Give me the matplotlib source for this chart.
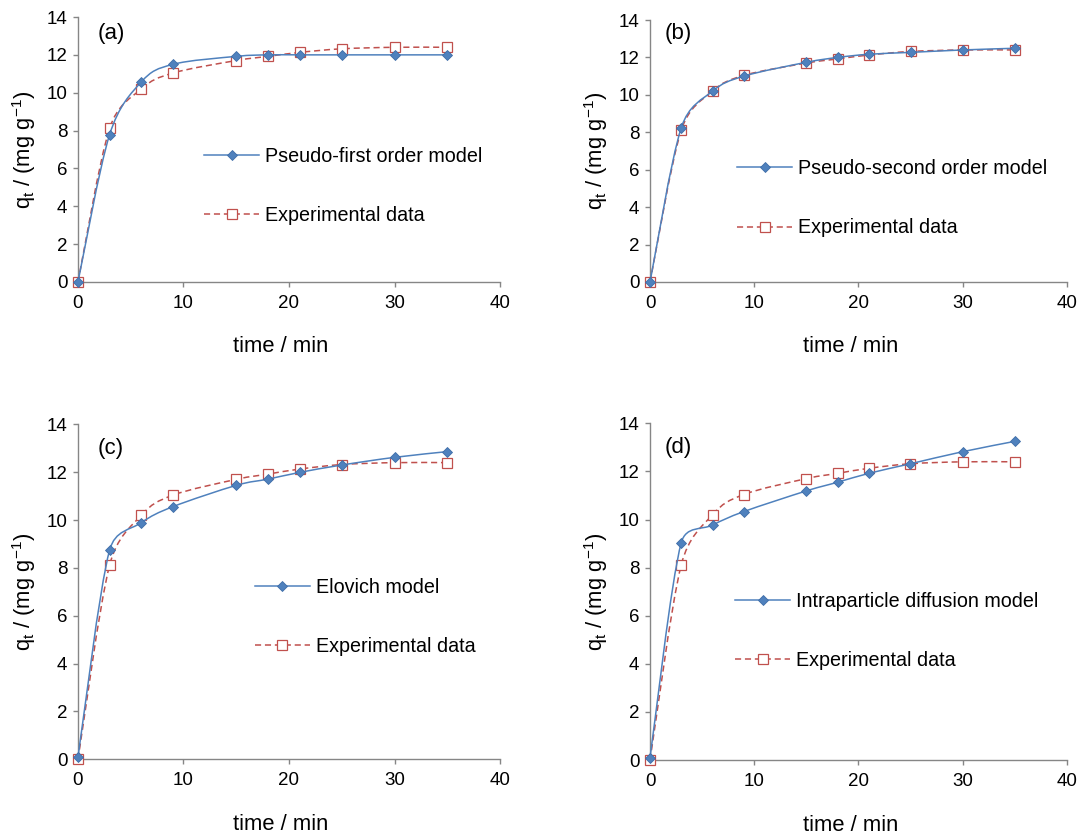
import numpy as np
import matplotlib
matplotlib.use('Agg')
import matplotlib.pyplot as plt
from matplotlib.path import Path
from matplotlib.patches import PathPatch
from matplotlib.lines import Line2D

# Fuente tipo Helvetica, tambien para el texto matematico
plt.rcParams['font.family'] = 'Liberation Sans'
plt.rcParams['mathtext.fontset'] = 'custom'
plt.rcParams['mathtext.rm'] = 'Liberation Sans'
plt.rcParams['mathtext.it'] = 'Liberation Sans:italic'

# Datos
tiempo = [0, 3, 6, 9, 15, 18, 21, 25, 30, 35]
q_exp = [0, 8.12, 10.2, 11.04, 11.7, 11.92, 12.13, 12.32, 12.4, 12.4]
q_pfo = [0, 7.79, 10.57, 11.5, 11.92, 12.0, 12.0, 12.0, 12.0, 12.0]
q_pso = [0, 8.25, 10.2, 11.0, 11.74, 12.0, 12.17, 12.27, 12.4, 12.49]
q_elovich = [0.1, 8.75, 9.89, 10.56, 11.45, 11.71, 11.99, 12.3, 12.62, 12.86]
q_intra = [0.1, 9.04, 9.77, 10.33, 11.19, 11.55, 11.92, 12.32, 12.82, 13.25]

modelos = [q_pfo, q_pso, q_elovich, q_intra]
nombres_modelo = ['Pseudo-first order model', 'Pseudo-second order model',
                  'Elovich model', 'Intraparticle diffusion model']
letras = ['(a)', '(b)', '(c)', '(d)']

# Posicion de cada panel [left, bottom, width, height] y de su leyenda
posiciones = [
    [0.0720, 0.6619, 0.3897, 0.3177],
    [0.6002, 0.6619, 0.3850, 0.3141],
    [0.0720, 0.0895, 0.3897, 0.4017],
    [0.6002, 0.0887, 0.3848, 0.4037],
]
leyenda_xy = [(0.299, 0.362), (0.209, 0.319), (0.419, 0.425), (0.204, 0.383)]
letra_xy = [(1.9, 13.15), (1.44, 13.3), (1.9, 13.0), (1.44, 13.0)]

AZUL = '#4F81BD'
ROJO = '#C0504D'
GRIS = '#868686'
W_PX, H_PX = 1083, 834

estilo_modelo = dict(color=AZUL, linewidth=1.1, marker='D', markersize=5.6,
                     markerfacecolor=AZUL, markeredgecolor='#3E6DA8',
                     markeredgewidth=0.6)
estilo_exp = dict(color=ROJO, linewidth=1.1, linestyle=(0, (4, 2.5)),
                  marker='s', markersize=7.8, markerfacecolor='white',
                  markeredgecolor=ROJO, markeredgewidth=0.9)


def curva_suave(x, y, sx, sy):
    """Linea suavizada estilo Excel: Bezier con tension 1/6, limitada
    a media longitud del tramo (calculada en pixeles)."""
    pts = np.column_stack([np.asarray(x, float) * sx, np.asarray(y, float) * sy])
    ext = np.vstack([pts[0], pts, pts[-1]])
    verts = [pts[0]]
    codes = [Path.MOVETO]
    for i in range(len(pts) - 1):
        p0, p1, p2, p3 = ext[i], ext[i + 1], ext[i + 2], ext[i + 3]
        d12 = np.hypot(*(p2 - p1))
        d02 = np.hypot(*(p2 - p0))
        d13 = np.hypot(*(p3 - p1))
        f1 = 1 / 6 if d02 / 6 < d12 / 2 or d02 == 0 else d12 / (2 * d02)
        f2 = 1 / 6 if d13 / 6 < d12 / 2 or d13 == 0 else d12 / (2 * d13)
        verts += [p1 + f1 * (p2 - p0), p2 - f2 * (p3 - p1), p2]
        codes += [Path.CURVE4] * 3
    verts = np.array(verts) / np.array([sx, sy])
    return Path(verts, codes)


fig = plt.figure(figsize=(10.83, 8.34), dpi=100)

for k in range(4):
    ax = fig.add_axes(posiciones[k])
    q_mod = modelos[k]
    ancho_px = posiciones[k][2] * W_PX
    alto_px = posiciones[k][3] * H_PX
    sx, sy = ancho_px / 40, alto_px / 14

    # datos experimentales: linea roja discontinua + cuadrados blancos
    ax.add_patch(PathPatch(curva_suave(tiempo, q_exp, sx, sy), fill=False,
                           edgecolor=ROJO, linewidth=1.1,
                           linestyle=(0, (4, 2.5)), zorder=2, clip_on=False))
    ax.plot(tiempo, q_exp, linestyle='none', marker='s', markersize=7.8,
            markerfacecolor='white', markeredgecolor=ROJO,
            markeredgewidth=0.9, zorder=3, clip_on=False)

    # modelo: linea azul continua + rombos
    ax.add_patch(PathPatch(curva_suave(tiempo, q_mod, sx, sy), fill=False,
                           edgecolor=AZUL, linewidth=1.1, zorder=4,
                           clip_on=False))
    ax.plot(tiempo, q_mod, linestyle='none', marker='D', markersize=5.6,
            markerfacecolor=AZUL, markeredgecolor='#3E6DA8',
            markeredgewidth=0.6, zorder=5, clip_on=False)

    ax.set_xlim(0, 40)
    ax.set_ylim(0, 14)
    ax.set_xticks([0, 10, 20, 30, 40])
    ax.set_yticks(np.arange(0, 15, 2))

    for lado in ['top', 'right']:
        ax.spines[lado].set_visible(False)
    for lado in ['left', 'bottom']:
        ax.spines[lado].set_color(GRIS)
        ax.spines[lado].set_linewidth(1.0)
    ax.tick_params(direction='out', length=3.6, width=1.0, color=GRIS,
                   labelsize=13.5)
    ax.tick_params(axis='x', pad=5.5)
    ax.tick_params(axis='y', pad=4.0)

    ax.set_xlabel('time / min', fontsize=15.8)
    ax.set_ylabel(r'q$_\mathrm{t}$ / (mg g$^\mathrm{-1}$)', fontsize=15.8)
    ax.xaxis.label.set_va('center')
    ax.yaxis.label.set_va('center')
    ax.xaxis.set_label_coords(0.481, -65 / alto_px)
    ax.yaxis.set_label_coords(-54 / ancho_px, 0.5)

    ax.text(letra_xy[k][0], letra_xy[k][1], letras[k], fontsize=16,
            ha='left', va='center')

    manejadores = [Line2D([], [], **estilo_modelo),
                   Line2D([], [], **estilo_exp)]
    ax.legend(manejadores, [nombres_modelo[k], 'Experimental data'],
              loc='center left', bbox_to_anchor=leyenda_xy[k],
              frameon=False, fontsize=14.2, borderpad=0, borderaxespad=0,
              handlelength=2.8, handletextpad=0.3, labelspacing=2.03,
              numpoints=1)

fig.savefig('out.png', dpi=100, facecolor='white')
